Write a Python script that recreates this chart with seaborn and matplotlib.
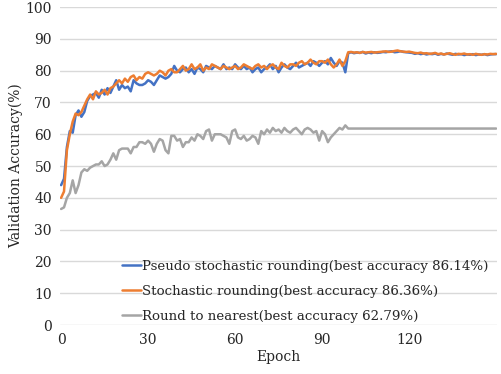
import pandas as pd
import matplotlib.pyplot as plt
import seaborn as sns
import numpy as np

# validation accuracy per epoch
pseudo = [44, 46, 56, 61, 60.5, 66, 67.5, 65.5, 67, 70.5,
          72, 72.5, 73, 71.5, 74, 72.5, 74.5, 73, 75, 77,
          74, 75.5, 74.5, 75, 73.5, 77, 76, 75.5, 75.5, 76,
          77, 76.5, 75.5, 77, 78.5, 78, 77.5, 78, 79, 81.5,
          80, 79.5, 80.5, 81, 79.5, 80.5, 79, 81, 80.5, 79.5,
          81.5, 81, 80.5, 81.5, 81, 80.5, 82, 80.5, 81, 80.5,
          82, 81, 80.5, 81.5, 80.5, 81, 79.5, 80.5, 81, 79.5,
          80.5, 81, 82, 80.5, 81.5, 79.5, 81, 82, 81, 80.5,
          81.5, 82.5, 81, 81.5, 82, 82.5, 81.5, 83, 82.5, 81.5,
          82.5, 83, 82, 84, 82.5, 81.5, 83, 82.5, 79.5, 85.5,
          85.8, 85.5, 85.7, 85.6, 85.9, 85.4, 85.7, 85.5, 85.8, 85.6,
          85.7, 85.9, 85.8, 86.0, 86.1, 85.8, 85.9, 86.14, 85.9, 85.8,
          85.7, 85.6, 85.3, 85.5, 85.2, 85.4, 85.1, 85.3, 85.2, 85.4,
          85.0, 85.3, 85.1, 85.4, 85.2, 85.0, 85.3, 85.1, 85.2, 84.9,
          85.1, 85.0, 85.2, 84.9, 85.1, 85.0, 85.2, 84.9, 85.1, 85.2, 85.2]
stochastic = [40, 42, 55, 60, 64, 66.5, 66, 67, 69, 71,
              72.5, 71, 73.5, 72.5, 73, 74, 72.5, 74.5, 75, 76,
              77, 76, 77.5, 76.5, 78, 78.5, 77, 78, 77.5, 79,
              79.5, 79, 78.5, 79, 80, 79.5, 78.5, 80, 80.5, 79.5,
              79.5, 80.5, 81.5, 80, 80.5, 82, 80.5, 81, 82, 80,
              81, 80.5, 82, 81.5, 81, 80.5, 81.5, 81, 80.5, 81,
              81.5, 80.5, 81, 82, 81.5, 81, 80.5, 81.5, 82, 81,
              81.5, 80.5, 81.5, 82, 81, 80.5, 82.5, 81.5, 81, 82,
              82, 81.5, 82.5, 83, 82, 82.5, 83.5, 82.5, 82, 83,
              83, 82.5, 83.5, 82, 81, 82, 83.5, 81.5, 83, 85.8,
              85.9, 85.7, 85.8, 85.6, 85.9, 85.7, 85.8, 85.9, 85.7, 85.8,
              85.9, 86.0, 86.1, 85.9, 86.0, 86.2, 86.36, 86.1, 86.0, 85.9,
              86.0, 85.8, 85.6, 85.5, 85.7, 85.4, 85.5, 85.3, 85.4, 85.6,
              85.2, 85.4, 85.1, 85.3, 85.5, 85.2, 85.0, 85.3, 85.2, 85.4,
              85.1, 85.2, 85.0, 85.3, 85.1, 85.0, 85.2, 85.1, 85.3, 85.2, 85.3]
nearest = [36.5, 37, 40, 41.5, 45.5, 41.5, 44, 48, 49, 48.5,
           49.5, 50, 50.5, 50.5, 51.5, 50, 50.5, 52, 54, 52,
           55, 55.5, 55.5, 55.5, 54, 56, 56, 57.5, 57.5, 57,
           58, 57, 54.5, 57, 58.5, 58, 55, 54, 59.5, 59.5,
           58, 58.5, 56, 57.5, 57.5, 59, 58, 60, 59.5, 58.5,
           61, 61.5, 58, 60, 60, 60, 59.5, 59, 57, 61,
           61.5, 59, 58.5, 59.5, 58, 58.5, 59.5, 59, 57, 61,
           60, 61.5, 60.5, 62, 61, 61.5, 60.5, 62, 61, 60.5,
           61.5, 62, 61, 60, 61.5, 62, 61.5, 60.5, 61, 58,
           61, 60, 57.5, 59, 60, 61, 62, 61.5, 62.79, 61.8]
nearest = nearest + [61.8] * (151 - len(nearest))

labels = ['Pseudo stochastic rounding(best accuracy 86.14%)',
          'Stochastic rounding(best accuracy 86.36%)',
          'Round to nearest(best accuracy 62.79%)']
colors = ['#4472C4', '#ED7D31', '#A5A5A5']

epochs = np.arange(len(pseudo))
df = pd.concat([
    pd.DataFrame({'Epoch': epochs, 'acc': pseudo, 'method': labels[0]}),
    pd.DataFrame({'Epoch': epochs, 'acc': stochastic, 'method': labels[1]}),
    pd.DataFrame({'Epoch': epochs, 'acc': nearest, 'method': labels[2]}),
])

sns.set_style('white')
plt.rcParams['font.family'] = ['DejaVu Serif']

fig = plt.figure(figsize=(5.02, 3.74), dpi=100)
ax = fig.add_axes([0.12, 0.131, 0.87, 0.85])
sns.lineplot(data=df, x='Epoch', y='acc', hue='method', palette=colors,
             linewidth=1.8, ax=ax)

ax.set_xlim(-0.3, 150.3)
ax.set_ylim(0, 100)
ax.set_xticks([0, 30, 60, 90, 120])
ax.set_yticks(range(0, 101, 10))
ax.yaxis.grid(True, color='#D9D9D9', linewidth=1)
ax.set_axisbelow(True)
for s in ax.spines.values():
    s.set_visible(False)
ax.tick_params(length=0, labelsize=10, pad=6)
ax.set_xlabel('Epoch', fontsize=10, labelpad=2)
ax.set_ylabel('Validation Accuracy(%)', fontsize=10, labelpad=2)

ax.legend(loc='lower left', bbox_to_anchor=(0.13, -0.01), frameon=False,
          fontsize=9.6, handlelength=1.4, handletextpad=0.05,
          labelspacing=0.9, borderaxespad=0)

fig.savefig('out.png', dpi=100)
